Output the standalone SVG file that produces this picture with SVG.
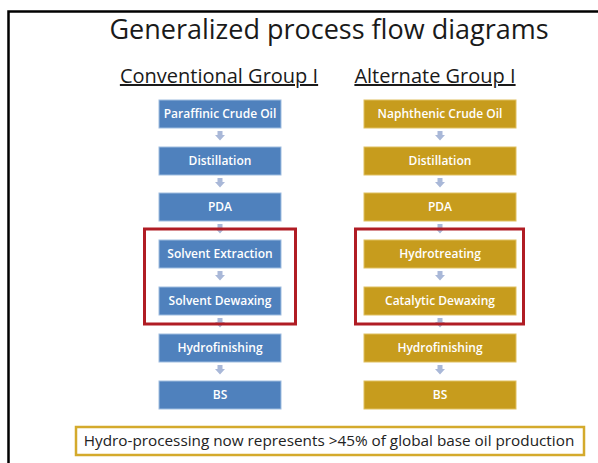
<svg xmlns="http://www.w3.org/2000/svg" width="598" height="463" viewBox="0 0 598 463">
<style>
text{font-family:"Open Sans","Liberation Sans",sans-serif}
.t{font-size:27px;fill:#1a1a1a;text-anchor:middle}
.h{font-size:20px;fill:#1a1a1a;text-anchor:middle;text-decoration:underline}
.b{fill:#4f81bd;stroke:#9fbde0;stroke-width:1}
.o{fill:#c79c1d;stroke:#e0c060;stroke-width:1}
.l{font-size:12px;fill:#fff;text-anchor:middle;font-weight:600}
.r{fill:none;stroke:#b01c24;stroke-width:3}
.a{fill:#a9b8d8}
</style>
<defs>
<path id="arr" class="a" d="M-2.5,0 H2.5 V4 H5 L0,9.5 L-5,4 H-2.5 Z"/>
</defs>
<rect width="598" height="463" fill="#fff"/>
<path d="M8.5,463 V11.5 H598" fill="none" stroke="#000" stroke-width="2.5"/>
<text class="t" x="329" y="39">Generalized process flow diagrams</text>
<text class="h" x="219" y="83">Conventional Group I</text>
<text class="h" x="435" y="83">Alternate Group I</text>
<g id="connectors">
<use href="#arr" x="220" y="131"/><use href="#arr" x="220" y="178"/><use href="#arr" x="220" y="224"/><use href="#arr" x="220" y="271"/><use href="#arr" x="220" y="318"/><use href="#arr" x="220" y="365"/>
<use href="#arr" x="440" y="131"/><use href="#arr" x="440" y="178"/><use href="#arr" x="440" y="224"/><use href="#arr" x="440" y="271"/><use href="#arr" x="440" y="318"/><use href="#arr" x="440" y="365"/>
</g>
<g id="paraffinic"><rect class="b" x="159" y="100" width="122" height="28"/><text class="l" x="220" y="118">Paraffinic Crude Oil</text></g>
<g id="distillation-l"><rect class="b" x="159" y="147" width="122" height="28"/><text class="l" x="220" y="165">Distillation</text></g>
<g id="pda-l"><rect class="b" x="159" y="193" width="122" height="28"/><text class="l" x="220" y="211">PDA</text></g>
<g id="solvent-extraction"><rect class="b" x="159" y="240" width="122" height="28"/><text class="l" x="220" y="258">Solvent Extraction</text></g>
<g id="solvent-dewaxing"><rect class="b" x="159" y="287" width="122" height="28"/><text class="l" x="220" y="305">Solvent Dewaxing</text></g>
<g id="hydrofinishing-l"><rect class="b" x="159" y="334" width="122" height="28"/><text class="l" x="220" y="352">Hydrofinishing</text></g>
<g id="bs-l"><rect class="b" x="159" y="381" width="122" height="28"/><text class="l" x="220" y="399">BS</text></g>
<g id="naphthenic"><rect class="o" x="364" y="100" width="152" height="28"/><text class="l" x="440" y="118">Naphthenic Crude Oil</text></g>
<g id="distillation-r"><rect class="o" x="364" y="147" width="152" height="28"/><text class="l" x="440" y="165">Distillation</text></g>
<g id="pda-r"><rect class="o" x="364" y="193" width="152" height="28"/><text class="l" x="440" y="211">PDA</text></g>
<g id="hydrotreating"><rect class="o" x="364" y="240" width="152" height="28"/><text class="l" x="440" y="258">Hydrotreating</text></g>
<g id="catalytic-dewaxing"><rect class="o" x="364" y="287" width="152" height="28"/><text class="l" x="440" y="305">Catalytic Dewaxing</text></g>
<g id="hydrofinishing-r"><rect class="o" x="364" y="334" width="152" height="28"/><text class="l" x="440" y="352">Hydrofinishing</text></g>
<g id="bs-r"><rect class="o" x="364" y="381" width="152" height="28"/><text class="l" x="440" y="399">BS</text></g>
<g id="highlight-left"><rect class="r" x="144.5" y="229" width="151" height="95"/></g>
<g id="highlight-right"><rect class="r" x="355.5" y="229" width="168" height="95"/></g>
<g id="note"><rect x="76" y="427" width="508" height="28" fill="#fff" stroke="#d4aa2c" stroke-width="2.5"/><text x="329" y="446" font-size="15.3" fill="#222" text-anchor="middle">Hydro-processing now represents &gt;45% of global base oil production</text></g>
</svg>
